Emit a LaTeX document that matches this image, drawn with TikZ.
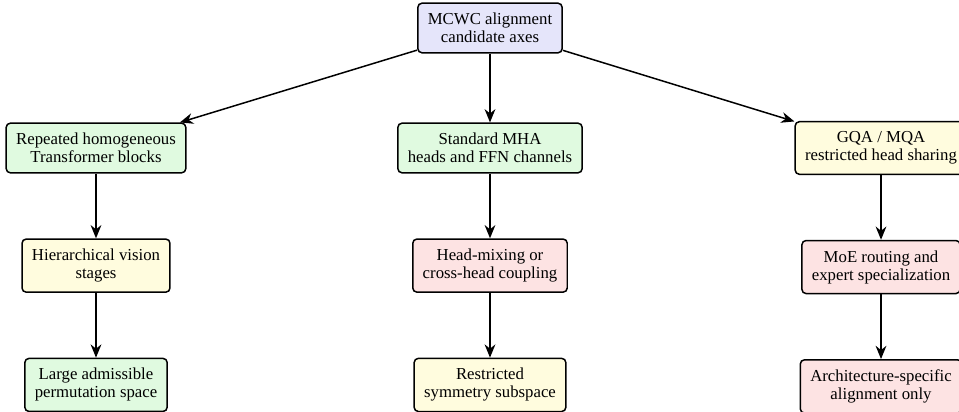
\documentclass[tikz,border=0pt]{standalone}
\usepackage{fontspec}
\setmainfont{Liberation Serif}
\usetikzlibrary{arrows.meta,positioning}
\definecolor{rootblue}{RGB}{229,229,250}
\definecolor{boxgreen}{RGB}{224,250,224}
\definecolor{boxyellow}{RGB}{255,252,222}
\definecolor{boxred}{RGB}{253,227,227}

\begin{document}
\begin{tikzpicture}
	[x=0.6024pt,y=-0.6024pt,
	 box/.style={draw,line width=0.9pt,rounded corners=2.5pt,align=center,
	 	inner sep=6pt,font=\fontsize{10.1}{10.8}\selectfont},
	 link/.style={-{Stealth[length=8pt,width=6.5pt]},line width=0.9pt}]
	\useasboundingbox (0,0) rectangle (959,412);
	% root
	\node[box,fill=rootblue] (root) at (490,28) {MCWC alignment\\candidate axes};
	% second row
	\node[box,fill=boxgreen] (blocks) at (96,148) {Repeated homogeneous\\Transformer blocks};
	\node[box,fill=boxgreen] (heads) at (490,148) {Standard MHA\\heads and FFN channels};
	\node[box,fill=boxyellow] (gqa) at (881,148) {GQA / MQA\\restricted head sharing};
	% third row
	\node[box,fill=boxyellow,below=39pt of blocks] (vision) {Hierarchical vision\\stages};
	\node[box,fill=boxred,below=39pt of heads] (mixing) {Head-mixing or\\cross-head coupling};
	\node[box,fill=boxred,below=39pt of gqa] (moe) {MoE routing and\\expert specialization};
	% fourth row
	\node[box,fill=boxgreen,below=39pt of vision] (large) {Large admissible\\permutation space};
	\node[box,fill=boxyellow,below=39pt of mixing] (subspace) {Restricted\\symmetry subspace};
	\node[box,fill=boxred,below=39pt of moe] (specific) {Architecture-specific\\alignment only};
	% arrows
	\foreach \a/\b in {root/blocks,root/heads,root/gqa,blocks/vision,heads/mixing,
		gqa/moe,vision/large,mixing/subspace,moe/specific}
		\draw[link] (\a) -- (\b);
\end{tikzpicture}
\end{document}
